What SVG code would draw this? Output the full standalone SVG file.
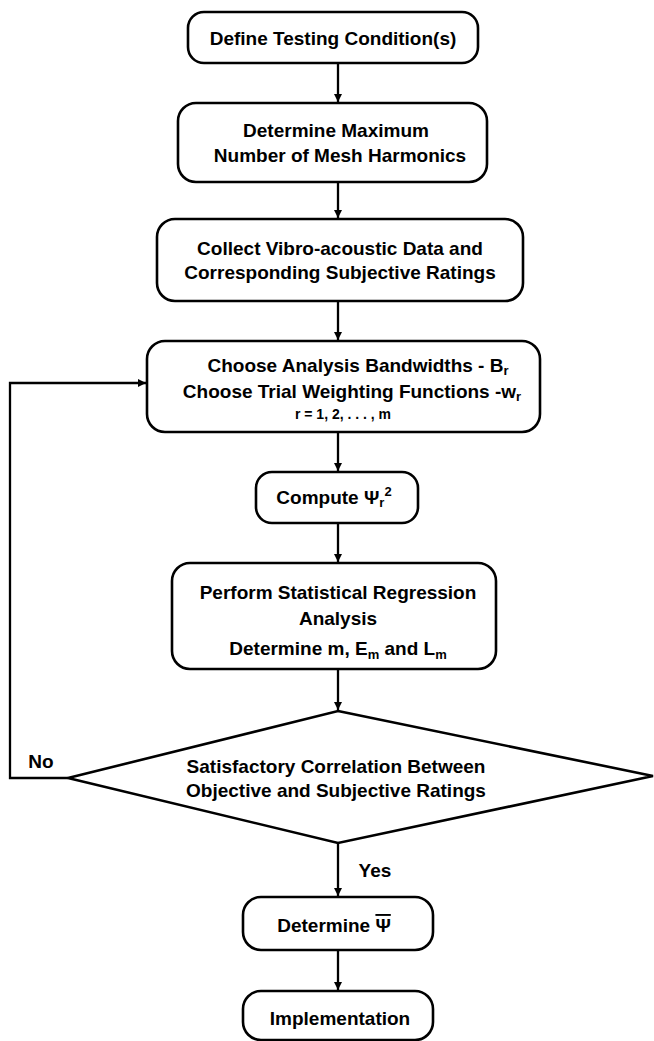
<svg xmlns="http://www.w3.org/2000/svg" width="654" height="1041" viewBox="0 0 654 1041">
<style>
.box{fill:#fff;stroke:#000;stroke-width:2.6}
.t{font-family:"Liberation Sans",Arial,sans-serif;font-weight:bold;font-size:19px;fill:#000;text-anchor:middle}
.s{font-size:13px}
.c{fill:none;stroke:#000;stroke-width:2.3}
</style>
<defs>
<marker id="ah" viewBox="0 0 10 10" refX="10" refY="5" markerWidth="3.5" markerHeight="4.5" orient="auto" markerUnits="strokeWidth">
<path d="M0,0 L10,5 L0,10 z" fill="#000"/>
</marker>
</defs>
<rect width="654" height="1041" fill="#fff"/>
<g id="connectors">
<line class="c" x1="338" y1="63" x2="338" y2="102" marker-end="url(#ah)"/>
<line class="c" x1="338" y1="182" x2="338" y2="218" marker-end="url(#ah)"/>
<line class="c" x1="338" y1="301" x2="338" y2="340" marker-end="url(#ah)"/>
<line class="c" x1="338" y1="432" x2="338" y2="471" marker-end="url(#ah)"/>
<line class="c" x1="338" y1="523" x2="338" y2="562" marker-end="url(#ah)"/>
<line class="c" x1="338" y1="669" x2="338" y2="710" marker-end="url(#ah)"/>
<line class="c" x1="338" y1="843" x2="338" y2="896" marker-end="url(#ah)"/>
<line class="c" x1="338" y1="950" x2="338" y2="990" marker-end="url(#ah)"/>
<polyline class="c" points="68,778 10,778 10,383 146,383" marker-end="url(#ah)"/>
<text class="t" x="41" y="768">No</text>
<text class="t" x="375" y="877">Yes</text>
</g>
<g id="n1">
<rect class="box" x="188" y="12" width="290" height="51" rx="16"/>
<text class="t" x="333" y="45">Define Testing Condition(s)</text>
</g>
<g id="n2">
<rect class="box" x="178" y="103" width="309" height="79" rx="18"/>
<text class="t" x="336" y="137">Determine Maximum</text>
<text class="t" x="340" y="162">Number of Mesh Harmonics</text>
</g>
<g id="n3">
<rect class="box" x="157" y="219" width="366" height="82" rx="18"/>
<text class="t" x="340" y="255">Collect Vibro-acoustic Data and</text>
<text class="t" x="340" y="279">Corresponding Subjective Ratings</text>
</g>
<g id="n4">
<rect class="box" x="147" y="341" width="393" height="91" rx="18"/>
<text class="t" x="358" y="372">Choose Analysis Bandwidths - B<tspan class="s" dy="3">r</tspan></text>
<text class="t" x="352" y="398">Choose Trial Weighting Functions -w<tspan class="s" dy="3">r</tspan></text>
<text class="t" x="343" y="419" style="font-size:14px">r = 1, 2, . . . , m</text>
</g>
<g id="n5">
<rect class="box" x="256" y="472" width="162" height="51" rx="16"/>
<text class="t" x="334" y="504">Compute  Ψ<tspan class="s" dy="3">r</tspan><tspan class="s" dy="-11" dx="0">2</tspan></text>
</g>
<g id="n6">
<rect class="box" x="172" y="563" width="324" height="106" rx="18"/>
<text class="t" x="338" y="599">Perform Statistical Regression</text>
<text class="t" x="338" y="625">Analysis</text>
<text class="t" x="338" y="655">Determine m,  E<tspan class="s" dy="4">m</tspan><tspan dy="-4"> and  L</tspan><tspan class="s" dy="4">m</tspan></text>
</g>
<g id="n7">
<polygon class="box" points="338,711 653,776 338,843 68,778"/>
<text class="t" x="336" y="773">Satisfactory Correlation Between</text>
<text class="t" x="336" y="797">Objective and Subjective Ratings</text>
</g>
<g id="n8">
<rect class="box" x="243" y="897" width="190" height="53" rx="18"/>
<text class="t" x="334" y="932">Determine   <tspan text-decoration="overline">Ψ</tspan></text>
</g>
<g id="n9">
<rect class="box" x="243" y="991" width="190" height="49" rx="18"/>
<text class="t" x="340" y="1025">Implementation</text>
</g>
</svg>
